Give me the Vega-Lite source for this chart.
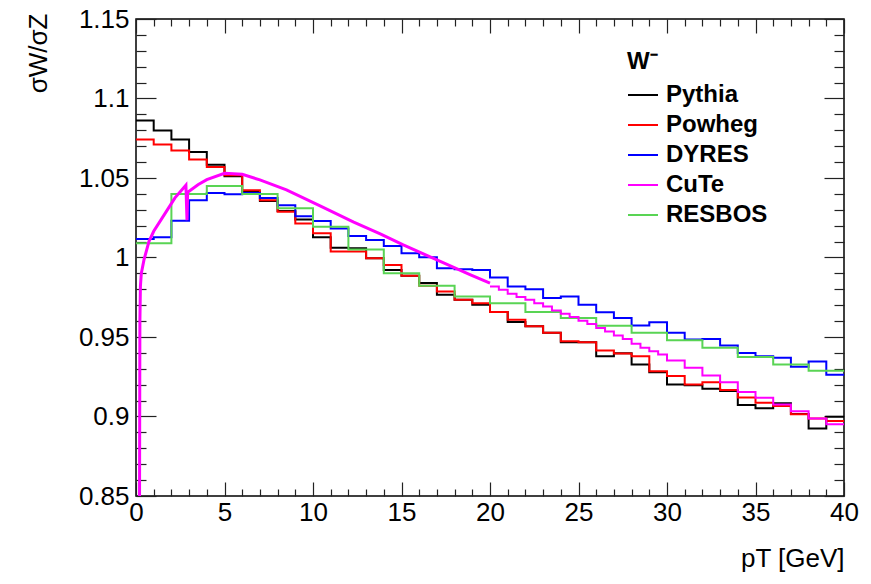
{
  "$schema": "https://vega.github.io/schema/vega-lite/v6.json",
  "autosize": {"type": "none"},
  "padding": {"left": 136, "top": 19, "right": 27, "bottom": 88},
  "width": 708,
  "height": 477,
  "config": {
    "font": "Liberation Sans",
    "view": {"stroke": "#000000", "strokeWidth": 1.5},
    "axis": {"grid": false, "domain": false, "tickColor": "#222222", "tickWidth": 1.2, "labelColor": "#000000", "titleColor": "#000000", "labelFont": "Liberation Sans", "titleFont": "Liberation Sans"}
  },
  "datasets": {
    "hist": [
      {"g":"Pythia","x":0,"y":1.0861},{"g":"Pythia","x":1,"y":1.0799},{"g":"Pythia","x":2,"y":1.0742},{"g":"Pythia","x":3,"y":1.0663},{"g":"Pythia","x":4,"y":1.0584},{"g":"Pythia","x":5,"y":1.0511},{"g":"Pythia","x":6,"y":1.0412},{"g":"Pythia","x":7,"y":1.0356},{"g":"Pythia","x":8,"y":1.0292},{"g":"Pythia","x":9,"y":1.0239},
      {"g":"Pythia","x":10,"y":1.0127},{"g":"Pythia","x":11,"y":1.0062},{"g":"Pythia","x":12,"y":1.0058},{"g":"Pythia","x":13,"y":0.9995},{"g":"Pythia","x":14,"y":0.9922},{"g":"Pythia","x":15,"y":0.9886},{"g":"Pythia","x":16,"y":0.9839},{"g":"Pythia","x":17,"y":0.9766},{"g":"Pythia","x":18,"y":0.9734},{"g":"Pythia","x":19,"y":0.9703},
      {"g":"Pythia","x":20,"y":0.9657},{"g":"Pythia","x":21,"y":0.9595},{"g":"Pythia","x":22,"y":0.9567},{"g":"Pythia","x":23,"y":0.9526},{"g":"Pythia","x":24,"y":0.9467},{"g":"Pythia","x":25,"y":0.9467},{"g":"Pythia","x":26,"y":0.9379},{"g":"Pythia","x":27,"y":0.9398},{"g":"Pythia","x":28,"y":0.9327},{"g":"Pythia","x":29,"y":0.9279},
      {"g":"Pythia","x":30,"y":0.9202},{"g":"Pythia","x":31,"y":0.9196},{"g":"Pythia","x":32,"y":0.9175},{"g":"Pythia","x":33,"y":0.916},{"g":"Pythia","x":34,"y":0.9072},{"g":"Pythia","x":35,"y":0.9052},{"g":"Pythia","x":36,"y":0.9083},{"g":"Pythia","x":37,"y":0.9015},{"g":"Pythia","x":38,"y":0.8925},{"g":"Pythia","x":39,"y":0.8999},{"g":"Pythia","x":40,"y":0.8999},
      {"g":"Powheg","x":0,"y":1.0742},{"g":"Powheg","x":1,"y":1.0711},{"g":"Powheg","x":2,"y":1.0673},{"g":"Powheg","x":3,"y":1.0617},{"g":"Powheg","x":4,"y":1.0569},{"g":"Powheg","x":5,"y":1.0517},{"g":"Powheg","x":6,"y":1.0423},{"g":"Powheg","x":7,"y":1.036},{"g":"Powheg","x":8,"y":1.0287},{"g":"Powheg","x":9,"y":1.0214},
      {"g":"Powheg","x":10,"y":1.0152},{"g":"Powheg","x":11,"y":1.0037},{"g":"Powheg","x":12,"y":1.0037},{"g":"Powheg","x":13,"y":0.9995},{"g":"Powheg","x":14,"y":0.9953},{"g":"Powheg","x":15,"y":0.9886},{"g":"Powheg","x":16,"y":0.9822},{"g":"Powheg","x":17,"y":0.9786},{"g":"Powheg","x":18,"y":0.9734},{"g":"Powheg","x":19,"y":0.9713},
      {"g":"Powheg","x":20,"y":0.9657},{"g":"Powheg","x":21,"y":0.9609},{"g":"Powheg","x":22,"y":0.9567},{"g":"Powheg","x":23,"y":0.9526},{"g":"Powheg","x":24,"y":0.9473},{"g":"Powheg","x":25,"y":0.9467},{"g":"Powheg","x":26,"y":0.9415},{"g":"Powheg","x":27,"y":0.9396},{"g":"Powheg","x":28,"y":0.9379},{"g":"Powheg","x":29,"y":0.9285},
      {"g":"Powheg","x":30,"y":0.9254},{"g":"Powheg","x":31,"y":0.9202},{"g":"Powheg","x":32,"y":0.9216},{"g":"Powheg","x":33,"y":0.9166},{"g":"Powheg","x":34,"y":0.9119},{"g":"Powheg","x":35,"y":0.9087},{"g":"Powheg","x":36,"y":0.9066},{"g":"Powheg","x":37,"y":0.9014},{"g":"Powheg","x":38,"y":0.8987},{"g":"Powheg","x":39,"y":0.8972},{"g":"Powheg","x":40,"y":0.8972},
      {"g":"DYRES","x":0,"y":1.0116},{"g":"DYRES","x":1,"y":1.0127},{"g":"DYRES","x":2,"y":1.0231},{"g":"DYRES","x":3,"y":1.036},{"g":"DYRES","x":4,"y":1.0406},{"g":"DYRES","x":5,"y":1.0398},{"g":"DYRES","x":6,"y":1.0406},{"g":"DYRES","x":7,"y":1.0375},{"g":"DYRES","x":8,"y":1.0329},{"g":"DYRES","x":9,"y":1.026},
      {"g":"DYRES","x":10,"y":1.0229},{"g":"DYRES","x":11,"y":1.0183},{"g":"DYRES","x":12,"y":1.0135},{"g":"DYRES","x":13,"y":1.011},{"g":"DYRES","x":14,"y":1.0072},{"g":"DYRES","x":15,"y":1.0026},{"g":"DYRES","x":16,"y":1.0001},{"g":"DYRES","x":17,"y":0.9933},{"g":"DYRES","x":18,"y":0.9926},{"g":"DYRES","x":19,"y":0.9922},
      {"g":"DYRES","x":20,"y":0.9874},{"g":"DYRES","x":21,"y":0.9818},{"g":"DYRES","x":22,"y":0.9801},{"g":"DYRES","x":23,"y":0.9745},{"g":"DYRES","x":24,"y":0.9755},{"g":"DYRES","x":25,"y":0.9703},{"g":"DYRES","x":26,"y":0.9656},{"g":"DYRES","x":27,"y":0.962},{"g":"DYRES","x":28,"y":0.9573},{"g":"DYRES","x":29,"y":0.9592},
      {"g":"DYRES","x":30,"y":0.9526},{"g":"DYRES","x":31,"y":0.9484},{"g":"DYRES","x":32,"y":0.9488},{"g":"DYRES","x":33,"y":0.9446},{"g":"DYRES","x":34,"y":0.94},{"g":"DYRES","x":35,"y":0.9379},{"g":"DYRES","x":36,"y":0.9369},{"g":"DYRES","x":37,"y":0.9313},{"g":"DYRES","x":38,"y":0.9346},{"g":"DYRES","x":39,"y":0.9262},{"g":"DYRES","x":40,"y":0.9262},
      {"g":"RESBOS","x":0,"y":1.009},{"g":"RESBOS","x":2,"y":1.040},{"g":"RESBOS","x":4,"y":1.045},{"g":"RESBOS","x":6,"y":1.040},{"g":"RESBOS","x":8,"y":1.031},{"g":"RESBOS","x":10,"y":1.0193},{"g":"RESBOS","x":12,"y":1.005},{"g":"RESBOS","x":14,"y":0.9901},{"g":"RESBOS","x":16,"y":0.9822},{"g":"RESBOS","x":18,"y":0.9755},
      {"g":"RESBOS","x":20,"y":0.9713},{"g":"RESBOS","x":22,"y":0.9657},{"g":"RESBOS","x":24,"y":0.962},{"g":"RESBOS","x":26,"y":0.957},{"g":"RESBOS","x":28,"y":0.9526},{"g":"RESBOS","x":30,"y":0.948},{"g":"RESBOS","x":32,"y":0.9432},{"g":"RESBOS","x":34,"y":0.9375},{"g":"RESBOS","x":36,"y":0.9327},{"g":"RESBOS","x":38,"y":0.9288},{"g":"RESBOS","x":40,"y":0.9288},
      {"g":"CuTe","x":20,"y":0.9818},{"g":"CuTe","x":20.5,"y":0.9797},{"g":"CuTe","x":21,"y":0.9772},{"g":"CuTe","x":21.5,"y":0.9751},{"g":"CuTe","x":22,"y":0.9734},{"g":"CuTe","x":22.5,"y":0.9713},{"g":"CuTe","x":23,"y":0.9692},{"g":"CuTe","x":23.5,"y":0.9667},{"g":"CuTe","x":24,"y":0.9647},{"g":"CuTe","x":24.5,"y":0.9626},
      {"g":"CuTe","x":25,"y":0.9602},{"g":"CuTe","x":25.5,"y":0.9582},{"g":"CuTe","x":26,"y":0.9556},{"g":"CuTe","x":26.5,"y":0.9534},{"g":"CuTe","x":27,"y":0.9509},{"g":"CuTe","x":27.5,"y":0.9488},{"g":"CuTe","x":28,"y":0.9457},{"g":"CuTe","x":28.5,"y":0.9432},{"g":"CuTe","x":29,"y":0.9411},{"g":"CuTe","x":29.5,"y":0.939},
      {"g":"CuTe","x":30,"y":0.9352},{"g":"CuTe","x":31,"y":0.9307},{"g":"CuTe","x":32,"y":0.9258},{"g":"CuTe","x":33,"y":0.9216},{"g":"CuTe","x":34,"y":0.9154},{"g":"CuTe","x":35,"y":0.9118},{"g":"CuTe","x":36,"y":0.9075},{"g":"CuTe","x":37,"y":0.9033},{"g":"CuTe","x":38,"y":0.8987},{"g":"CuTe","x":39,"y":0.8952},{"g":"CuTe","x":40,"y":0.8952}
    ],
    "cute": [
      {"g":"CuTe","x":0.2,"y":0.85},{"g":"CuTe","x":0.22,"y":0.96},{"g":"CuTe","x":0.25,"y":0.982},{"g":"CuTe","x":0.3,"y":0.99},{"g":"CuTe","x":0.45,"y":0.9985},{"g":"CuTe","x":0.73,"y":1.010},{"g":"CuTe","x":1.0,"y":1.0165},{"g":"CuTe","x":1.6,"y":1.027},{"g":"CuTe","x":2.2,"y":1.0375},{"g":"CuTe","x":2.82,"y":1.0455},
      {"g":"CuTe","x":2.88,"y":1.0235},{"g":"CuTe","x":2.92,"y":1.041},{"g":"CuTe","x":3.5,"y":1.0458},{"g":"CuTe","x":4.0,"y":1.049},{"g":"CuTe","x":5.0,"y":1.053},{"g":"CuTe","x":6.0,"y":1.0523},{"g":"CuTe","x":7.0,"y":1.0488},{"g":"CuTe","x":8.5,"y":1.0425},{"g":"CuTe","x":10.4,"y":1.0325},{"g":"CuTe","x":12.3,"y":1.0222},
      {"g":"CuTe","x":13.8,"y":1.0148},{"g":"CuTe","x":15.1,"y":1.0079},{"g":"CuTe","x":17.0,"y":0.9985},{"g":"CuTe","x":18.9,"y":0.9891},{"g":"CuTe","x":20.0,"y":0.9839}
    ]
  },
  "layer": [
    {
      "data": {"name": "hist"},
      "mark": {"type": "line", "interpolate": "step-after", "strokeWidth": 2, "clip": true},
      "encoding": {
        "x": {
          "field": "x", "type": "quantitative",
          "scale": {"domain": [0, 40], "nice": false, "zero": false},
          "axis": {
            "orient": "bottom",
            "values": [0,1,2,3,4,5,6,7,8,9,10,11,12,13,14,15,16,17,18,19,20,21,22,23,24,25,26,27,28,29,30,31,32,33,34,35,36,37,38,39,40],
            "labelExpr": "datum.value % 5 === 0 ? format(datum.value, 'd') : ''",
            "tickSize": {"condition": {"test": "datum.value % 5 === 0", "value": -14}, "value": -7},
            "labelPadding": 17,
            "labelFontSize": 26,
            "labelFlush": false,
            "labelOverlap": false,
            "title": "pT [GeV]",
            "titleFontSize": 26,
            "titleFontWeight": "normal",
            "titleAnchor": "end",
            "titleAlign": "right",
            "titleBaseline": "alphabetic",
            "titleX": 708,
            "titleY": 70
          }
        },
        "y": {
          "field": "y", "type": "quantitative",
          "scale": {"domain": [0.85, 1.15], "nice": false, "zero": false},
          "axis": {
            "orient": "left",
            "values": [0.85,0.86,0.87,0.88,0.89,0.9,0.91,0.92,0.93,0.94,0.95,0.96,0.97,0.98,0.99,1,1.01,1.02,1.03,1.04,1.05,1.06,1.07,1.08,1.09,1.1,1.11,1.12,1.13,1.14,1.15],
            "labelExpr": "abs(datum.value*20 - round(datum.value*20)) < 0.001 ? format(datum.value, '~g') : ''",
            "tickSize": {"condition": {"test": "abs(datum.value*20 - round(datum.value*20)) < 0.001", "value": -20}, "value": -10},
            "labelPadding": 27,
            "labelFontSize": 26,
            "labelFlush": false,
            "labelOverlap": false,
            "title": "σW/σZ",
            "titleFontSize": 26,
            "titleFontWeight": "normal",
            "titleAngle": -90,
            "titleAlign": "right",
            "titleBaseline": "middle",
            "titleX": -98,
            "titleY": -6
          }
        },
        "color": {
          "field": "g", "type": "nominal",
          "scale": {"domain": ["Pythia", "Powheg", "DYRES", "CuTe", "RESBOS"], "range": ["#000000", "#ff0000", "#0000ff", "#ff00ff", "#59d454"]},
          "legend": {
            "orient": "none",
            "legendX": 491,
            "legendY": 31,
            "padding": 0,
            "title": "W⁻",
            "titleFontSize": 24,
            "titleFontWeight": "bold",
            "titleColor": "#000000",
            "titlePadding": 5,
            "labelFontSize": 24,
            "labelFontWeight": "bold",
            "labelColor": "#000000",
            "labelOffset": 7,
            "symbolType": "stroke",
            "symbolSize": 900,
            "symbolStrokeWidth": 2,
            "rowPadding": 2
          }
        }
      }
    },
    {
      "data": {"name": "cute"},
      "mark": {"type": "line", "interpolate": "linear", "strokeWidth": 3, "clip": true},
      "encoding": {
        "x": {
          "field": "x", "type": "quantitative",
          "axis": {
            "orient": "top",
            "values": [0,1,2,3,4,5,6,7,8,9,10,11,12,13,14,15,16,17,18,19,20,21,22,23,24,25,26,27,28,29,30,31,32,33,34,35,36,37,38,39,40],
            "labels": false,
            "title": null,
            "tickSize": {"condition": {"test": "datum.value % 5 === 0", "value": -14}, "value": -7}
          }
        },
        "y": {
          "field": "y", "type": "quantitative",
          "axis": {
            "orient": "right",
            "values": [0.85,0.86,0.87,0.88,0.89,0.9,0.91,0.92,0.93,0.94,0.95,0.96,0.97,0.98,0.99,1,1.01,1.02,1.03,1.04,1.05,1.06,1.07,1.08,1.09,1.1,1.11,1.12,1.13,1.14,1.15],
            "labels": false,
            "title": null,
            "tickSize": {"condition": {"test": "abs(datum.value*20 - round(datum.value*20)) < 0.001", "value": -20}, "value": -10}
          }
        },
        "color": {"field": "g", "type": "nominal"}
      }
    }
  ],
  "resolve": {"axis": {"x": "independent", "y": "independent"}}
}
